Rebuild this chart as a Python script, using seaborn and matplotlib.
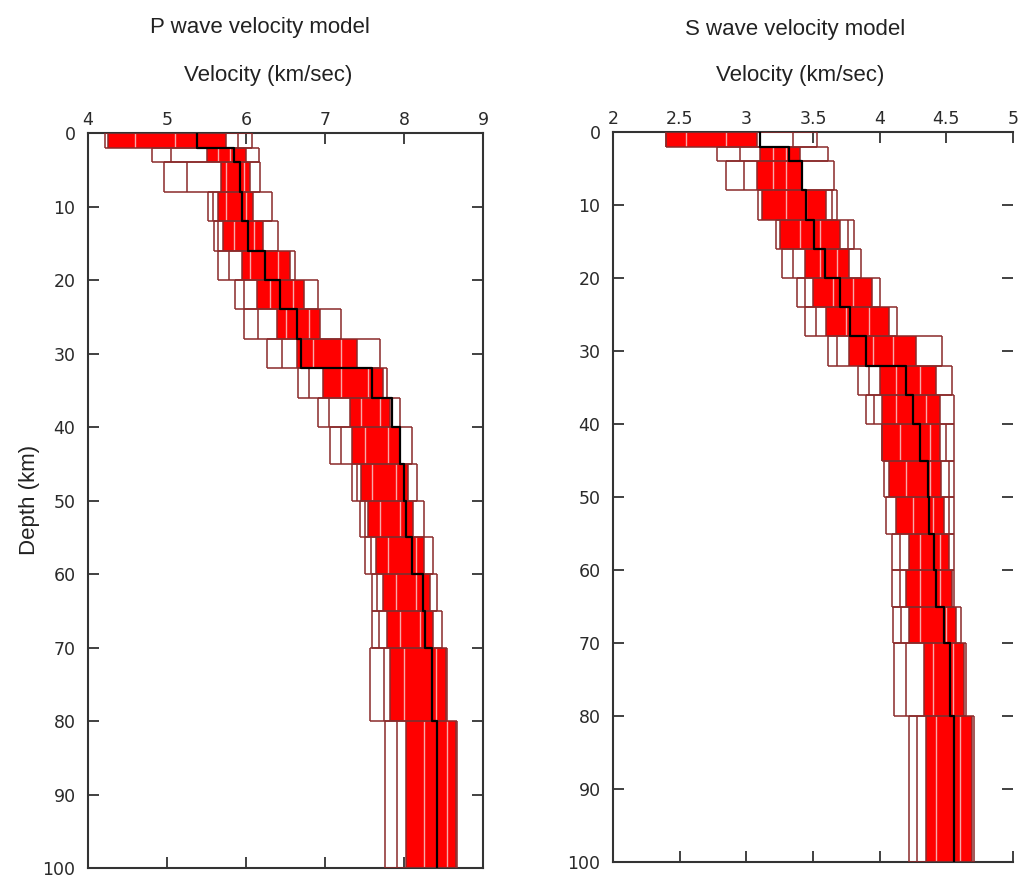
import numpy as np
import pandas as pd
import matplotlib
matplotlib.use("Agg")
import matplotlib.pyplot as plt
import seaborn as sns

# ---------------- data ----------------
layer_tops = [0, 2, 4, 8, 12, 16, 20, 24, 28, 32, 36, 40, 45, 50, 55, 60, 65, 70, 80]
layer_bottoms = [2, 4, 8, 12, 16, 20, 24, 28, 32, 36, 40, 45, 50, 55, 60, 65, 70, 80, 100]

# P wave: per layer slowest model, core lower, core upper, fastest model, mean
p_min = [4.22, 4.81, 4.96, 5.52, 5.60, 5.65, 5.86, 5.98, 6.27, 6.66, 6.91, 7.06, 7.34, 7.44, 7.50, 7.60, 7.60, 7.57, 7.76]
p_lo = [4.25, 5.50, 5.68, 5.65, 5.71, 5.95, 6.14, 6.39, 6.64, 6.97, 7.32, 7.34, 7.45, 7.55, 7.65, 7.73, 7.78, 7.82, 8.02]
p_hi = [5.75, 6.00, 6.05, 6.09, 6.21, 6.56, 6.73, 6.94, 7.40, 7.73, 7.82, 7.95, 8.05, 8.12, 8.25, 8.33, 8.37, 8.53, 8.66]
p_max = [6.08, 6.17, 6.18, 6.33, 6.41, 6.62, 6.91, 7.20, 7.70, 7.78, 7.95, 8.10, 8.17, 8.25, 8.37, 8.42, 8.48, 8.54, 8.67]
p_mean = [5.38, 5.85, 5.92, 5.95, 6.03, 6.24, 6.43, 6.64, 6.70, 7.60, 7.85, 7.95, 8.00, 8.02, 8.10, 8.24, 8.27, 8.35, 8.42]
p_outer = [5.90, 5.05, 5.25, 5.58, 5.65, 5.78, 5.98, 6.15, 6.45, 6.80, 7.05, 7.20, 7.40, 7.50, 7.58, 7.66, 7.68, 7.75, 7.91]
p_inner_a = [4.60, 5.65, 5.75, 5.75, 5.85, 6.05, 6.30, 6.50, 6.85, 7.20, 7.45, 7.50, 7.60, 7.70, 7.80, 7.90, 7.95, 8.00, 8.25]
p_inner_b = [5.10, 5.80, 5.98, 6.00, 6.10, 6.40, 6.60, 6.80, 7.20, 7.55, 7.70, 7.80, 7.90, 7.95, 8.15, 8.15, 8.20, 8.40, 8.55]

# S wave
s_min = [2.40, 2.78, 2.85, 3.09, 3.22, 3.27, 3.38, 3.44, 3.61, 3.84, 3.90, 4.02, 4.03, 4.05, 4.09, 4.09, 4.10, 4.11, 4.22]
s_lo = [2.40, 3.10, 3.08, 3.12, 3.25, 3.44, 3.50, 3.60, 3.77, 4.00, 4.02, 4.02, 4.07, 4.12, 4.22, 4.20, 4.22, 4.33, 4.35]
s_hi = [3.08, 3.40, 3.42, 3.60, 3.70, 3.77, 3.94, 4.07, 4.27, 4.42, 4.45, 4.45, 4.46, 4.48, 4.52, 4.54, 4.57, 4.63, 4.69]
s_max = [3.53, 3.61, 3.66, 3.68, 3.81, 3.86, 4.00, 4.13, 4.47, 4.54, 4.56, 4.56, 4.56, 4.56, 4.56, 4.56, 4.61, 4.65, 4.71]
s_mean = [3.10, 3.32, 3.42, 3.45, 3.51, 3.59, 3.70, 3.78, 3.90, 4.20, 4.25, 4.30, 4.36, 4.37, 4.41, 4.42, 4.48, 4.53, 4.56]
s_outer = [3.35, 2.95, 2.98, 3.64, 3.76, 3.35, 3.44, 3.52, 3.68, 3.92, 3.96, 4.50, 4.52, 4.52, 4.15, 4.15, 4.16, 4.20, 4.28]
s_inner_a = [2.55, 3.20, 3.20, 3.30, 3.40, 3.55, 3.65, 3.75, 3.95, 4.12, 4.12, 4.15, 4.20, 4.25, 4.30, 4.30, 4.30, 4.40, 4.42]
s_inner_b = [2.85, 3.30, 3.30, 3.45, 3.55, 3.68, 3.80, 3.92, 4.10, 4.30, 4.35, 4.38, 4.38, 4.40, 4.45, 4.45, 4.50, 4.55, 4.60]

p_xticks = [4, 5, 6, 7, 8, 9]
p_xticklabels = ["4", "5", "6", "7", "8", "9"]
s_xticks = [2, 2.5, 3, 3.5, 4, 4.5, 5]
s_xticklabels = ["2", "2.5", "3", "3.5", "4", "4.5", "5"]
depth_ticks = [0, 10, 20, 30, 40, 50, 60, 70, 80, 90, 100]

RED = "#FF0000"
DARK = "#8A2A2A"
PINK = "#F6A8A8"
AXC = "#333333"

sns.set_style("ticks")
plt.rcParams["font.family"] = ["DejaVu Sans"]
NARROW = ["Liberation Sans Narrow", "Liberation Sans", "DejaVu Sans"]

fig = plt.figure(figsize=(10.27, 8.85), dpi=100)
ax_p = fig.add_axes([0.0857, 0.0192, 0.3846, 0.8305])
ax_s = fig.add_axes([0.5969, 0.0260, 0.3895, 0.8248])


def draw_panel(ax, vmin, lo, hi, vmax, mean, outer, inner_a, inner_b):
    for i, (t, b) in enumerate(zip(layer_tops, layer_bottoms)):
        ax.fill_betweenx([t, b], lo[i], hi[i], color=RED, lw=0, zorder=2)
        ax.vlines([inner_a[i], inner_b[i]], t, b, color=PINK, lw=1.0, zorder=2.5)
        ax.vlines([vmin[i], lo[i], hi[i], vmax[i], outer[i]], t, b, color=DARK, lw=1.1, zorder=3)
        ax.hlines([t, b], vmin[i], vmax[i], color=DARK, lw=1.1, zorder=3)
    depths = []
    vels = []
    for t, b, m in zip(layer_tops, layer_bottoms, mean):
        depths += [t, b]
        vels += [m, m]
    df = pd.DataFrame({"velocity": vels, "depth": depths})
    sns.lineplot(data=df, x="velocity", y="depth", sort=False, estimator=None,
                 color="black", lw=1.6, ax=ax, zorder=4)


def style_axes(ax, xlim, xticks, xticklabels, right_spine=True):
    ax.set_xlim(*xlim)
    ax.set_ylim(100, 0)
    ax.set_xticks(xticks)
    ax.set_xticklabels(xticklabels)
    ax.set_yticks(depth_ticks)
    ax.set_yticklabels([str(d) for d in depth_ticks])
    ax.xaxis.tick_top()
    ax.tick_params(axis="both", direction="in", length=8, width=1.3, colors=AXC,
                   labelsize=12.5, labelcolor="#2a2a2a")
    ax.tick_params(axis="x", top=True, bottom=True, labeltop=True, labelbottom=False, pad=3)
    ax.tick_params(axis="y", left=True, right=True, labelleft=True, labelright=False, pad=9)
    for name, sp in ax.spines.items():
        sp.set_color(AXC)
        sp.set_linewidth(1.5)
        sp.set_visible(True)
    if not right_spine:
        ax.spines["right"].set_visible(False)
    ax.set_xlabel("")
    ax.set_ylabel("")
    ax.set_facecolor("white")


draw_panel(ax_p, p_min, p_lo, p_hi, p_max, p_mean, p_outer, p_inner_a, p_inner_b)
draw_panel(ax_s, s_min, s_lo, s_hi, s_max, s_mean, s_outer, s_inner_a, s_inner_b)
style_axes(ax_p, (4, 9), p_xticks, p_xticklabels)
style_axes(ax_s, (2, 5), s_xticks, s_xticklabels, right_spine=False)

fig.text(260 / 1027, 1 - 27 / 885, "P wave velocity model", ha="center", va="center",
         fontsize=16, family=NARROW, color="#222222")
fig.text(268 / 1027, 1 - 75 / 885, "Velocity (km/sec)", ha="center", va="center",
         fontsize=16, family=NARROW, color="#222222")
fig.text(795 / 1027, 1 - 29 / 885, "S wave velocity model", ha="center", va="center",
         fontsize=16, family=NARROW, color="#222222")
fig.text(800 / 1027, 1 - 75 / 885, "Velocity (km/sec)", ha="center", va="center",
         fontsize=16, family=NARROW, color="#222222")
fig.text(30 / 1027, 1 - 500 / 885, "Depth (km)", ha="center", va="center", rotation=90,
         fontsize=16, family=NARROW, color="#222222")

fig.savefig("out.png", dpi=100, facecolor="white")
